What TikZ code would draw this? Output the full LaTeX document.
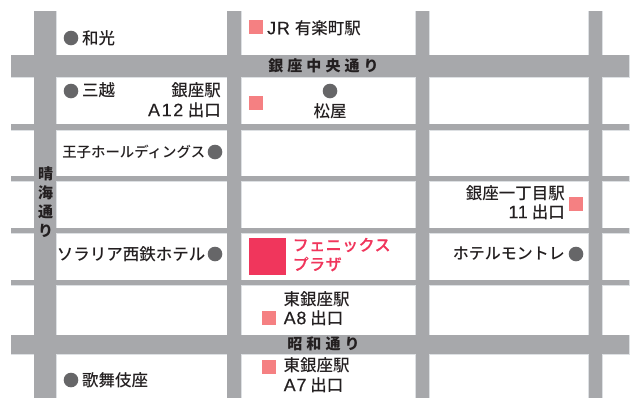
\documentclass[tikz,border=0pt]{standalone}
\usepackage{fontspec}
\setmainfont{Noto Sans CJK JP Medium}
\newfontfamily\roadfont[LetterSpace=27]{Noto Sans CJK JP}
\newfontfamily\pinkfont[LetterSpace=3,FakeBold=0.3]{Noto Sans CJK JP Medium}
\newfontfamily\latfont[LetterSpace=4,FakeBold=0.25]{Liberation Sans}
\newfontfamily\latwide[LetterSpace=9,FakeBold=0.25]{Liberation Sans}
\newcommand{\lat}[1]{{\latfont\fontsize{18}{18}\selectfont #1}}
\newcommand{\latw}[1]{{\latwide\fontsize{18}{18}\selectfont #1}}
\definecolor{road}{HTML}{A7A8AB}
\definecolor{roadedge}{HTML}{DDE0E3}
\definecolor{dotgray}{HTML}{666668}
\definecolor{salmon}{HTML}{F58082}
\definecolor{hotelpink}{HTML}{F0365C}
\definecolor{labelink}{HTML}{231F20}
\tikzset{
  x=1pt,y=-1pt,
  roadrect/.style={fill=road,draw=roadedge,line width=0.5pt},
  roadfill/.style={fill=road,draw=none},
  lbl/.style={inner sep=0pt,text=labelink,font=\fontsize{16.5}{16.5}\selectfont},
  lblw/.style={lbl,anchor=west},
  lble/.style={lbl,anchor=east},
  roadlabel/.style={inner sep=0pt,text=labelink,font=\roadfont\bfseries\fontsize{15}{15}\selectfont},
  pinklabel/.style={inner sep=0pt,anchor=west,text=hotelpink,font=\pinkfont\fontsize{16}{16}\selectfont},
  placedot/.style={circle,fill=dotgray,minimum size=14.6pt,inner sep=0pt},
  stationbox/.style={fill=salmon,minimum size=14pt,inner sep=0pt},
}
\begin{document}
\begin{tikzpicture}
\useasboundingbox (0,0) rectangle (635,397);
% roads: edges first, then fills
\foreach \a/\b in {55/77,124/130,176/181,228/233,280/285,335/354}
  \draw[roadrect] (11,\a) rectangle (629,\b);
\foreach \a/\b in {34/56,227/241,415.5/429,588.5/602}
  \draw[roadrect] (\a,11) rectangle (\b,397.5);
\foreach \a/\b in {55/77,124/130,176/181,228/233,280/285,335/354}
  \fill[roadfill] (11,\a) rectangle (629,\b);
\foreach \a/\b in {34/56,227/241,415.5/429,588.5/602}
  \fill[roadfill] (\a,11) rectangle (\b,397.5);
% road names
\node[roadlabel] (chuo) at (323.5,66) {銀座中央通り};
\node[roadlabel] (showa) at (323.5,343.5) {昭和通り};
\node[roadlabel,align=center,font=\roadfont\bfseries\fontsize{15}{19}\selectfont] (harumi) at (45.5,202) {晴\\海\\通\\り};
% places
\node[placedot] (wako) at (71,38) {};
\node[lblw] (wakot) at (82,38.5) {和光};
\node[placedot] (mitsu) at (71,91) {};
\node[lblw] (mitsut) at (82,90.5) {三越};
\node[lble] (ginza1) at (221,90.5) {銀座駅};
\node[lble] (ginza2) at (221,110) {\latw{A12}\hspace{4.5pt}出口};
\node[stationbox] (ginzabox) at (256,103) {};
\node[stationbox] (jrbox) at (256,27) {};
\node[lblw] (jrt) at (267,28) {\lat{JR}\hspace{5pt}有楽町駅};
\node[placedot] (matsu) at (330,91) {};
\node[lbl] (matsut) at (330,111.5) {松屋};
\node[placedot] (oji) at (215,152) {};
\node[lble,font=\fontsize{14.4}{14.4}\selectfont] (ojit) at (205.5,152) {王子ホールディングス};
\node[lble] (ichi1) at (565,193) {銀座一丁目駅};
\node[lble] (ichi2) at (565,212) {\lat{11}\hspace{4pt}出口};
\node[stationbox] (ichibox) at (576,204) {};
\node[placedot] (solaria) at (215,254) {};
\node[lble] (solariat) at (205.5,254) {ソラリア西鉄ホテル};
\node[fill=hotelpink,minimum size=37pt,inner sep=0pt] (hotel) at (267.5,256.5) {};
\node[pinklabel] (hotel1) at (292.5,245) {フェニックス};
\node[pinklabel] (hotel2) at (292.5,264) {プラザ};
\node[placedot] (monte) at (576,254) {};
\node[lble,font=\fontsize{16}{16}\selectfont] (montet) at (565,254) {ホテルモントレ};
\node[lblw] (a8a) at (283.5,299) {東銀座駅};
\node[lblw] (a8b) at (283.5,318) {\lat{A8}\hspace{4pt}出口};
\node[stationbox] (a8box) at (269,318) {};
\node[lblw] (a7a) at (283.5,365.5) {東銀座駅};
\node[lblw] (a7b) at (283.5,385) {\lat{A7}\hspace{4pt}出口};
\node[stationbox] (a7box) at (269,367) {};
\node[placedot] (kabuki) at (71,380) {};
\node[lblw] (kabukit) at (82,380.5) {歌舞伎座};
\end{tikzpicture}
\end{document}
